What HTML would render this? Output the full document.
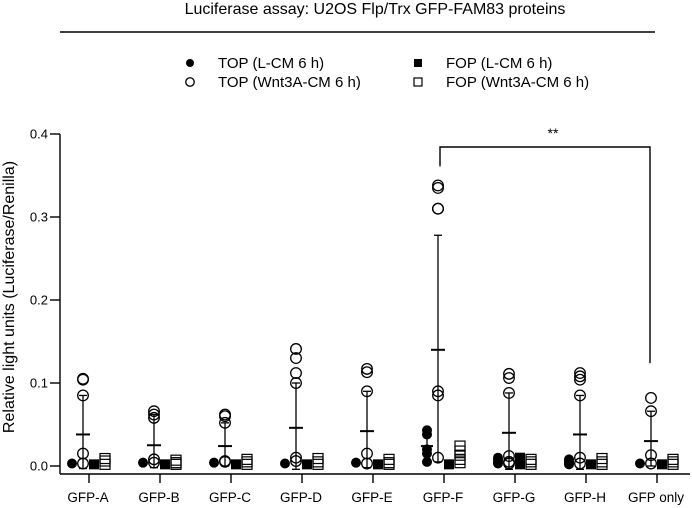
<!DOCTYPE html>
<html><head><meta charset="utf-8"><style>
body{margin:0;background:#fff;}
svg{display:block;font-family:"Liberation Sans",Arial,sans-serif;}
</style></head><body>
<svg id="chart" width="692" height="508"></svg>
<script>
const categories=["GFP-A","GFP-B","GFP-C","GFP-D","GFP-E","GFP-F","GFP-G","GFP-H","GFP only"];
const topWntPoints=[[0.105,0.104,0.085,0.015,0.003],[0.066,0.062,0.058,0.008,0.004],[0.062,0.060,0.052,0.006,0.005],[0.141,0.130,0.112,0.100,0.010,0.006],[0.117,0.113,0.090,0.015,0.003],[0.338,0.335,0.310,0.310,0.090,0.085,0.010],[0.111,0.106,0.088,0.012,0.005,0.003],[0.112,0.108,0.104,0.085,0.010,0.003],[0.082,0.066,0.013,0.003]];
const topWntMean=[0.038,0.025,0.024,0.046,0.042,0.140,0.040,0.038,0.030];
const topWntUpper=[0.085,0.062,0.052,0.100,0.090,0.278,0.088,0.085,0.066];
const topWntLower=[-0.003,-0.002,0.0,-0.004,-0.002,0.005,-0.004,-0.004,0.0];
const topLPoints=[[0.003],[0.004],[0.004],[0.003],[0.004],[0.043,0.038,0.020,0.015,0.005],[0.010,0.008,0.005,0.003],[0.008,0.006,0.004,0.002],[0.003]];
const topLMean=[null,null,null,null,null,0.024,null,null,null];
const topLUpper=[null,null,null,null,null,0.038,null,null,null];
const fopLPoints=[[0.002],[0.002],[0.002],[0.002],[0.002],[0.002],[0.010,0.006,0.002],[0.002],[0.002]];
const fopWntPoints=[[0.009,0.006,0.002],[0.007,0.004,0.002],[0.008,0.005,0.002],[0.009,0.005,0.002],[0.008,0.004,0.002],[0.024,0.018,0.013,0.008,0.004],[0.008,0.005,0.002],[0.009,0.005,0.002],[0.008,0.005,0.002]];
const yTicks=[0.0,0.1,0.2,0.3,0.4];
const yTickLabels=["0.0","0.1","0.2","0.3","0.4"];
const sigLeftValue=0.361, sigRightValue=0.124, sigTopY=147;

const NS="http://www.w3.org/2000/svg";
const svg=document.getElementById('chart');
function el(t,a,p){const e=document.createElementNS(NS,t);for(const k in a)e.setAttribute(k,a[k]);(p||svg).appendChild(e);return e;}
const y=v=>466-v*830;
const x=i=>89+i*71;

// title
let t=el('text',{x:375,y:14,'font-size':16,'text-anchor':'middle'});t.textContent="Luciferase assay: U2OS Flp/Trx GFP-FAM83 proteins";


let l=el('line',{x1:60,x2:655,y1:32,y2:32,stroke:'#000','stroke-width':1.5});



// legend
const legend=[["TOP (L-CM 6 h)",190,63,'fc'],["TOP (Wnt3A-CM 6 h)",190,82,'oc'],["FOP (L-CM 6 h)",418,63,'fs'],["FOP (Wnt3A-CM 6 h)",418,82,'os']];
function marker(type,cx,cy,g,small){
 const s=small?0.8:1;
 if(type==='fc')return el('circle',{cx,cy,r:5*s,fill:'#000'},g);
 if(type==='oc')return el('circle',{cx,cy,r:5.3*s,fill:'none',stroke:'#000','stroke-width':1.3},g);
 if(type==='fs')return el('rect',{x:cx-5*s,y:cy-5*s,width:10*s,height:10*s,fill:'#000'},g);
 return el('rect',{x:cx-5*s,y:cy-5*s,width:10*s,height:10*s,fill:'none',stroke:'#000','stroke-width':1.2},g);
}
legend.forEach(d=>{
 const g=el('g',{});
 
 
 marker(d[3],d[1],d[2],g,true);
 const tx=el('text',{x:d[1]+28,y:d[2]+5,'font-size':15},g);tx.textContent=d[0];
});

// axes
const ax=el('g',{stroke:'#000','stroke-width':1.4});


el('line',{x1:60,x2:60,y1:y(0.4),y2:474},ax);
el('line',{x1:60,x2:690,y1:474,y2:474},ax);
yTicks.forEach((v,i)=>{
 el('line',{x1:50,x2:60,y1:y(v),y2:y(v)},ax);
 const tx=el('text',{x:48,y:y(v)+4.5,'font-size':13,'text-anchor':'end'});
 tx.textContent=yTickLabels[i];
 
 
});
const yt=el('text',{x:0,y:0,'font-size':16,'text-anchor':'middle',transform:'translate(14,297) rotate(-90)'});
yt.textContent="Relative light units (Luciferase/Renilla)";


categories.forEach((c,i)=>{
 el('line',{x1:x(i),x2:x(i),y1:474,y2:483},ax);
 const tx=el('text',{x:x(i)-1,y:502,'font-size':13.5,'text-anchor':'middle'});
 tx.textContent=c;
 
 
});

// data
categories.forEach((c,i)=>{
 const g=el('g',{});
 
 
 const cx=x(i);
 topLPoints[i].forEach(v=>marker('fc',cx-17,y(v),g));
 if(topLMean[i]!==null){
  el('line',{x1:cx-17,x2:cx-17,y1:y(topLUpper[i]),y2:y(0.005),stroke:'#000','stroke-width':1.3},g);
  el('line',{x1:cx-23,x2:cx-11,y1:y(topLMean[i]),y2:y(topLMean[i]),stroke:'#000','stroke-width':2},g);
 }
 const ox=cx-6;
 el('line',{x1:ox,x2:ox,y1:y(topWntUpper[i]),y2:y(topWntLower[i]),stroke:'#000','stroke-width':1.3},g);
 el('line',{x1:ox-4,x2:ox+4,y1:y(topWntUpper[i]),y2:y(topWntUpper[i]),stroke:'#000','stroke-width':1.3},g);
 el('line',{x1:ox-4,x2:ox+4,y1:y(topWntLower[i]),y2:y(topWntLower[i]),stroke:'#000','stroke-width':1.3},g);
 el('line',{x1:ox-7,x2:ox+7,y1:y(topWntMean[i]),y2:y(topWntMean[i]),stroke:'#000','stroke-width':2},g);
 topWntPoints[i].forEach(v=>marker('oc',ox,y(v),g));
 fopLPoints[i].forEach(v=>marker('fs',cx+5,y(v),g));
 fopWntPoints[i].forEach(v=>marker('os',cx+16,y(v),g));
});

// significance
const sg=el('g',{});


el('polyline',{points:`${x(5)-4},${y(sigLeftValue)} ${x(5)-4},${sigTopY} ${x(8)-7},${sigTopY} ${x(8)-7},${y(sigRightValue)}`,fill:'none',stroke:'#000','stroke-width':1.4},sg);
const st=el('text',{x:553,y:138,'font-size':14,'text-anchor':'middle'},sg);st.textContent="**";
</script>
</body></html>
